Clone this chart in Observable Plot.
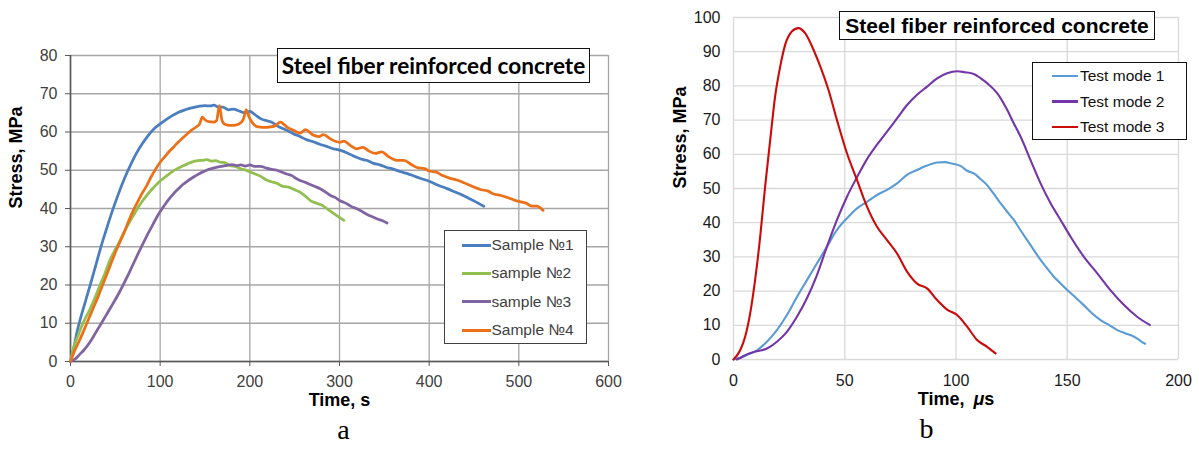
<!DOCTYPE html>
<html>
<head>
<meta charset="utf-8">
<script src="https://cdn.jsdelivr.net/npm/d3@7"></script>
<script src="https://cdn.jsdelivr.net/npm/@observablehq/plot@0.6"></script>
<style>
  html, body { margin: 0; padding: 0; background: #fff; }
  #wrap { position: relative; width: 1199px; height: 453px; overflow: hidden; background: #fff; font-family: "Liberation Sans", Arial, sans-serif; }
  .panel { position: absolute; top: 0; }
  .titlebox { position: absolute; box-sizing: border-box; border: 1.3px solid #111; background: #fff; font-weight: bold; white-space: nowrap; display: flex; align-items: center; justify-content: center; color: #000; }
  .legend { position: absolute; box-sizing: border-box; background: #fff; }
  .lrow { position: absolute; left: 0; height: 20px; display: flex; align-items: center; white-space: nowrap; }
  .swatch { display: inline-block; }
</style>
</head>
<body>
<div id="wrap">
  <div id="panelA" class="panel" style="left:0px"></div>
  <div id="panelB" class="panel" style="left:660px"></div>
  <div class="titlebox" style="left:277px;top:48px;width:313px;height:35px;font-family:Lato,'Liberation Sans',sans-serif;font-size:22.6px;">Steel fiber reinforced concrete</div>
  <div class="titlebox" style="left:839px;top:11px;width:316px;height:29px;font-family:'Liberation Sans',Arial,sans-serif;font-size:21px;">Steel fiber reinforced concrete</div>
  <div id="legA" class="legend" style="left:444px;top:230px;width:143px;height:114px;border:1.3px solid #404040;"></div>
  <div id="legB" class="legend" style="left:1032px;top:62px;width:155px;height:78px;border:1.3px solid #111;"></div>
</div>
<script>
// ---------------- Panel a data ----------------
const xTicksA = [0, 100, 200, 300, 400, 500, 600];
const yTicksA = [0, 10, 20, 30, 40, 50, 60, 70, 80];
const seriesA = ["Sample №1", "sample №2", "sample №3", "Sample №4"];
const colorsA = ["#4a7ebf", "#92c050", "#8064a2", "#ec7018"];

const sample1Time = [0,4,8,12,17,22,28,33,39,45,50,55,61,67,73,80,87,93,100,107,113,120,128,135,143,150,155,160,165,170,176,182,188,195,200,206,212,218,225,232,240,249,256,263,270,278,285,292,301,308,315,323,330,338,345,352,360,368,375,383,390,398,405,412,420,428,435,443,450,456,461];
const sample1Stress = [0,4,8.5,12,16,20,25,29.2,33.8,38.2,41.6,44.8,48.3,51.4,54.2,56.9,59.2,60.8,62.1,63.3,64.2,65.1,65.8,66.3,66.7,66.9,66.8,67,66.5,66.5,65.8,66,65.5,65,65.4,64.5,63.5,63,62.5,61.4,60.6,59.5,58.8,58,57.5,56.8,56.3,55.7,55.2,54.6,53.8,53,52.6,51.8,51.4,50.8,50.3,49.6,49.2,48.5,47.9,47.3,46.6,45.9,45.2,44.4,43.7,42.8,42,41.2,40.6];

const sample2Time = [0,4,8,12,17,22,27,32,38,44,50,54,60,66,71,76,82,88,94,100,106,112,118,124,130,136,142,148,152,157,162,167,172,178,184,190,197,204,212,218,224,230,237,243,249,256,262,268,274,280,287,293,299,305];
const sample2Stress = [0,4,6.5,9,11.5,13.8,16.5,19.5,22.8,26.5,29.3,31,34,36.5,38.5,40.5,42.5,44.3,45.8,47.2,48.3,49.4,50.3,51,51.6,52.2,52.5,52.6,52.8,52.4,52.5,52.1,52,51.2,51,50.4,49.9,49.2,48.4,47.5,47,46.6,45.8,45.6,45,44.3,43.2,42,41.4,40.9,39.8,38.8,37.8,36.9];

const sample3Time = [0,5,10,15,20,25,30,35,40,45,50,55,60,65,70,75,80,85,90,95,100,105,110,115,120,125,130,135,140,145,150,155,160,165,170,175,180,185,190,195,200,206,212,218,223,230,236,241,247,252,256,260,266,272,279,285,290,295,300,305,310,315,320,326,332,338,343,348,353];
const sample3Stress = [0,0.6,1.8,3,4.5,6.3,8.3,10.2,12.2,14.2,16.2,18.3,20.6,23,25.5,28,30.4,32.8,35,37.2,39.2,40.9,42.5,43.9,45.1,46.2,47.1,47.9,48.6,49.3,49.8,50.3,50.6,50.9,51.1,51.3,51.5,51.2,51.4,51.1,51.4,51,51,50.6,50.3,50,49.5,49,48.6,47.8,47.3,47,46.4,45.8,45.1,44.2,43.4,42.9,42.1,41.6,41,40.3,39.9,39.1,38.3,37.7,37.2,36.8,36.2];

const sample4Time = [0,5,10,15,20,25,30,35,40,45,50,55,60,65,70,75,80,85,90,95,100,105,110,115,120,125,130,135,140,144,147,150,154,160,163,166,169,172,178,184,190,193,196,199,203,208,215,222,228,234,242,250,256,262,270,277,282,290,296,300,305,312,319,326,333,340,347,355,364,372,380,388,394,400,408,415,422,430,438,444,450,458,465,472,480,488,495,501,508,515,520,527];
const sample4Stress = [0,3,5.5,8.2,11,13.8,16.5,19.5,22.5,25.5,28.5,31.2,33.8,36.8,39.5,41.8,44,46,48.3,50.3,52.1,53.5,54.9,56.1,57.3,58.4,59.5,60.5,61.3,62.1,63.9,63.2,62.7,62.6,63,66.9,63,62,61.7,61.8,62.4,63.5,65.8,64,62.4,61.4,61.2,61.3,61.6,62.6,61.2,60.3,59.7,60.6,59.3,58.8,59.3,58.2,57.5,57.3,57.6,56.5,55.6,56,55,54.4,54.8,53.5,52.6,52.6,51.5,50.6,50.5,49.8,49.5,48.6,48,47.5,46.8,46.2,45.6,44.9,44.6,43.8,43.4,42.8,42.2,41.8,41.4,40.6,40.6,39.5];

// ---------------- Panel b data ----------------
const xTicksB = [0, 50, 100, 150, 200];
const yTicksB = [0, 10, 20, 30, 40, 50, 60, 70, 80, 90, 100];
const seriesB = ["Test mode 1", "Test mode 2", "Test mode 3"];
const colorsB = ["#5b9bd5", "#7435a8", "#cc0a0a"];

const mode1Time = [0,3,6,10.5,15,19.5,24,28.5,33,37.5,42,46.5,51,55.5,60,64.5,69,73.5,78,82.5,87,91.5,95,98,102,105,108,111,114,117,120,123,126,129,132,135,138,141,144,147,150,154,157.4,161,165,169,172.5,176,180,183,185];
const mode1Stress = [0,0.5,1.3,2.7,5.2,8.6,13,18.3,23.2,28.1,33,37.9,41.3,44.2,46.1,48.1,49.6,51.5,54,55.4,56.7,57.6,57.7,57.3,56.6,55.2,54.4,52.8,51,48.4,45.7,43.2,40.8,37.8,34.9,32,29.1,26.6,24.2,22.2,20.3,18,15.9,13.6,11.5,10,8.6,7.7,6.7,5.4,4.6];

const mode2Time = [1.5,4,6,10.5,15,19.5,24,28.5,33,37.5,42,46.5,51,55.5,60,64.5,69,73.5,78,82.5,87,91.5,96,100.5,104,108,111,114,118.5,123,126,129,133.5,138,142.5,147,151.5,157.4,163.5,169.4,175.4,181.4,187.1];
const mode2Stress = [0,0.8,1.5,2.4,3.2,5.2,8.1,12.5,17.9,24.7,33,40.8,47.6,53.3,58.6,62.8,66.6,70.5,74.4,77.4,79.8,82.2,83.7,84.3,84,83.5,82.3,80.8,77.9,73,69,65.2,58.3,51.5,45.7,40.8,35.9,30.1,25.2,20.3,16,12.5,10.1];

const mode3Time = [0,3,5.2,7.5,9.7,12,14.2,16.5,18.7,21,23.2,26.2,29.2,32.2,36,39,42.7,46.5,51,55.5,60,64.5,69,73.5,78,82.5,87,91.5,96,100.5,105,109.5,114,117.8];
const mode3Stress = [0,2.7,6.6,13.5,23.2,35.9,50.5,64.2,76.9,85.7,92,95.9,96.9,95.4,90.5,85.7,78.8,70,60.3,52.5,44.7,38.8,34.9,31,25.7,22.2,20.8,17.4,14.6,13,9.6,5.7,3.7,1.8];

// ---------------- build tables ----------------
function rows(name, ts, ss) { return ts.map((t, i) => ({series: name, t, s: ss[i]})); }
const dataA = [
  ...rows(seriesA[0], sample1Time, sample1Stress),
  ...rows(seriesA[1], sample2Time, sample2Stress),
  ...rows(seriesA[2], sample3Time, sample3Stress),
  ...rows(seriesA[3], sample4Time, sample4Stress)
];
const dataB = [
  ...rows(seriesB[0], mode1Time, mode1Stress),
  ...rows(seriesB[1], mode2Time, mode2Stress),
  ...rows(seriesB[2], mode3Time, mode3Stress)
];

const sans = "'Liberation Sans', Arial, sans-serif";
const serif = "'Liberation Serif', 'Times New Roman', serif";

const plotA = Plot.plot({
  width: 620, height: 453,
  marginLeft: 70, marginRight: 12, marginTop: 55, marginBottom: 92,
  style: {fontFamily: sans, fontSize: "16px", background: "transparent", overflow: "visible"},
  x: {domain: [0, 600]},
  y: {domain: [0, 80]},
  color: {domain: seriesA, range: colorsA},
  marks: [
    Plot.gridY(yTicksA, {stroke: "#a6a6a6", strokeOpacity: 1, strokeWidth: 1.3}),
    Plot.gridX(xTicksA, {stroke: "#a6a6a6", strokeOpacity: 1, strokeWidth: 1.3}),
    Plot.axisY(yTicksA, {tickSize: 5, tickPadding: 8, stroke: "#595959", fill: "#404040", label: null, fontSize: 16}),
    Plot.axisX(xTicksA, {tickSize: 5, tickPadding: 9, stroke: "#595959", fill: "#404040", label: null, fontSize: 16}),
    Plot.ruleY([0], {stroke: "#595959", strokeWidth: 1.6}),
    Plot.ruleX([0], {stroke: "#595959", strokeWidth: 1.6}),
    Plot.line(dataA, {x: "t", y: "s", z: "series", stroke: "series", strokeWidth: 2.75, curve: "monotone-x"}),
    Plot.text(["Time, s"], {frameAnchor: "bottom", dy: 44, fontWeight: "bold", fontSize: 18, fill: "#000"}),
    Plot.text(["Stress, MPa"], {frameAnchor: "left", dx: -54.5, rotate: -90, fontWeight: "bold", fontSize: 18, fill: "#000"}),
    Plot.text(["a"], {frameAnchor: "bottom", dy: 77, dx: 4, fontFamily: serif, fontSize: 28, fill: "#000"})
  ]
});
document.getElementById("panelA").appendChild(plotA);

const plotB = Plot.plot({
  width: 539, height: 453,
  marginLeft: 73, marginRight: 21, marginTop: 17, marginBottom: 94,
  style: {fontFamily: sans, fontSize: "16px", background: "transparent", overflow: "visible"},
  x: {domain: [0, 200]},
  y: {domain: [0, 100]},
  color: {domain: seriesB, range: colorsB},
  marks: [
    Plot.gridY(yTicksB, {stroke: "#d9d9d9", strokeOpacity: 1, strokeWidth: 1.3}),
    Plot.gridX(xTicksB, {stroke: "#d9d9d9", strokeOpacity: 1, strokeWidth: 1.3}),
    Plot.axisY(yTicksB, {tickSize: 0, tickPadding: 13, fill: "#1a1a1a", label: null, fontSize: 16}),
    Plot.axisX(xTicksB, {tickSize: 0, tickPadding: 15, fill: "#1a1a1a", label: null, fontSize: 16}),
    Plot.line(dataB, {x: "t", y: "s", z: "series", stroke: "series", strokeWidth: 2.1, curve: "monotone-x"}),
    Plot.text(["Time, μs"], {frameAnchor: "bottom", dy: 45, fontWeight: "bold", fontSize: 18, fill: "#000"}),
    Plot.text(["Stress, MPa"], {frameAnchor: "left", dx: -53, rotate: -90, fontWeight: "bold", fontSize: 18, fill: "#000"}),
    Plot.text(["b"], {frameAnchor: "bottom", dy: 78, dx: -29.5, fontFamily: serif, fontSize: 28, fill: "#000"})
  ]
});
document.getElementById("panelB").appendChild(plotB);

// italic μ in the time label of panel b
d3.select(plotB).selectAll("text").filter(function () { return this.textContent === "Time, μs"; })
  .each(function () {
    const t = d3.select(this);
    t.text(null);
    t.append("tspan").text("Time,");
    t.append("tspan").attr("dx", "9").attr("font-style", "italic").text("μ");
    t.append("tspan").text("s");
  });

// ---------------- legends ----------------
function buildLegend(id, names, colors, opts) {
  const box = document.getElementById(id);
  names.forEach((n, i) => {
    const r = document.createElement("div");
    r.className = "lrow";
    r.style.top = (opts.first + i * opts.step - 10) + "px";
    r.style.left = opts.lineLeft + "px";
    const sw = document.createElement("span");
    sw.className = "swatch";
    sw.style.width = opts.lineW + "px";
    sw.style.height = opts.lineH + "px";
    sw.style.background = colors[i];
    const tx = document.createElement("span");
    tx.textContent = n;
    tx.style.marginLeft = opts.gap + "px";
    tx.style.fontSize = opts.fontSize + "px";
    tx.style.color = opts.color;
    r.appendChild(sw); r.appendChild(tx);
    box.appendChild(r);
  });
}
buildLegend("legA", seriesA, colorsA, {first: 14, step: 28.4, lineLeft: 16.5, lineW: 29, lineH: 3, gap: 1, fontSize: 15.5, color: "#404040"});
buildLegend("legB", seriesB, colorsB, {first: 13, step: 25.6, lineLeft: 19, lineW: 26, lineH: 2.4, gap: 2, fontSize: 15.5, color: "#111"});
</script>
</body>
</html>
